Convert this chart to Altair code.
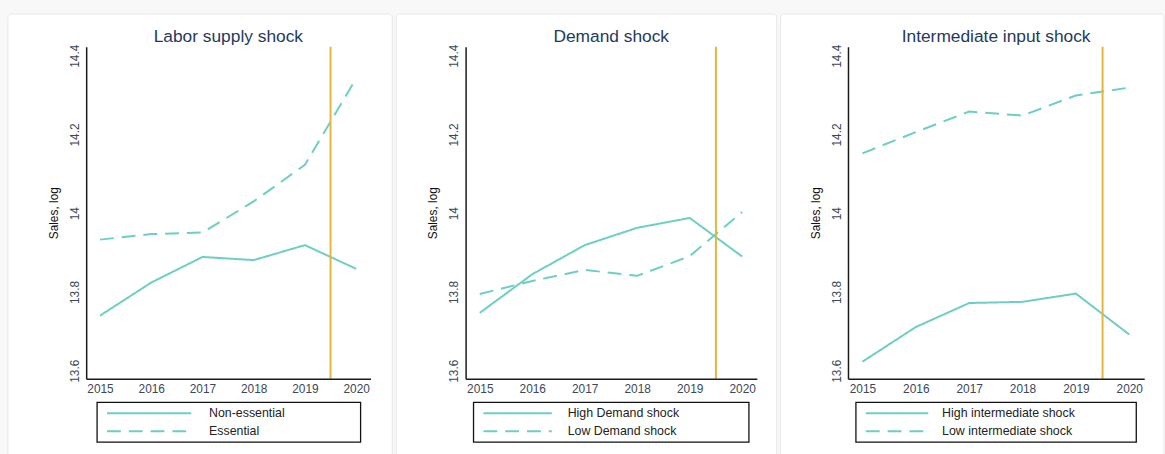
import altair as alt
import pandas as pd

# ---- data -------------------------------------------------------------
years = [2015, 2016, 2017, 2018, 2019, 2020]

panel_titles = ["Labor supply shock", "Demand shock", "Intermediate input shock"]
solid_names = ["Non-essential", "High Demand shock", "High intermediate shock"]
dashed_names = ["Essential", "Low Demand shock", "Low intermediate shock"]

labor_nonessential = [13.740, 13.824, 13.889, 13.881, 13.919, 13.859]
labor_essential = [13.933, 13.947, 13.951, 14.030, 14.123, 14.342]
demand_high = [13.747, 13.845, 13.919, 13.963, 13.988, 13.890]
demand_low = [13.795, 13.828, 13.856, 13.841, 13.891, 14.003]
input_high = [13.623, 13.711, 13.772, 13.775, 13.796, 13.692]
input_low = [14.152, 14.206, 14.258, 14.248, 14.299, 14.319]

solid_series = [labor_nonessential, demand_high, input_high]
dashed_series = [labor_essential, demand_low, input_low]

shock_year = 2019.5
y_ticks = [13.6, 13.8, 14.0, 14.2, 14.4]

# ---- styling / layout ------------------------------------------------
FONT = "Liberation Sans"
TEAL = "#6dcfc3"
GOLD = "#e5b63d"
LABEL_COLOR = "#3a4757"
TITLE_COLOR = "#1f3a5c"
DASH = [14, 8]

x_domain = [2014.73, 2020.28]
y_domain = [13.58, 14.4226]
plot_height = 335

# per-panel geometry (pixels relative to each plot area's top-left corner)
panel_widths = [287, 294, 299]
frame_x = [(-79, 309), (-70, 314), (-68, 319)]
legend_box_x = [(11, 277), (8, 286), (8, 291)]
legend_line_x = [(21, 106), (18, 87), (18, 81)]
legend_text_x = [124, 103, 95]
legend_box_y = (359, 399)
legend_rows_y = [370, 388]


def one_panel(i):
    w = panel_widths[i]
    df = pd.DataFrame({
        "year": years * 2,
        "sales": solid_series[i] + dashed_series[i],
        "series": [solid_names[i]] * len(years) + [dashed_names[i]] * len(years),
    })
    anchor = pd.DataFrame({"k": [0]})

    x_enc = alt.X(
        "year:Q",
        scale=alt.Scale(domain=x_domain, nice=False, zero=False),
        axis=alt.Axis(
            values=years, format="d", title=None, grid=False, ticks=False,
            domainColor="#1a1a1a", domainWidth=1.5, zindex=2,
            labelFont=FONT, labelFontSize=12, labelColor=LABEL_COLOR,
            labelPadding=5, labelFlush=False,
        ),
    )
    y_enc = alt.Y(
        "sales:Q",
        scale=alt.Scale(domain=y_domain, nice=False, zero=False),
        axis=alt.Axis(
            values=y_ticks, format=".1~f", title="Sales, log", grid=False,
            ticks=False, domainColor="#1a1a1a", domainWidth=1.5, zindex=2,
            labelFont=FONT, labelFontSize=12, labelColor=LABEL_COLOR,
            labelAngle=270, labelAlign="center", labelBaseline="bottom",
            labelPadding=5, labelFlush=False,
            titleFont=FONT, titleFontSize=12, titleFontWeight="normal",
            titleColor="#111111", titlePadding=8,
        ),
    )

    frame = alt.Chart(anchor).mark_rect(
        fill="white", stroke="#e8e8e8", strokeWidth=1, cornerRadius=3
    ).encode(
        x=alt.value(frame_x[i][0]), x2=alt.value(frame_x[i][1]),
        y=alt.value(-33), y2=alt.value(425),
    )

    title = alt.Chart(anchor).mark_text(
        text=panel_titles[i], font=FONT, fontSize=17.5, color=TITLE_COLOR,
        align="center", baseline="alphabetic",
    ).encode(x=alt.value(w / 2), y=alt.value(-4.5))

    lines = alt.Chart(df).mark_line(strokeWidth=2, color=TEAL).encode(
        x=x_enc,
        y=y_enc,
        strokeDash=alt.StrokeDash(
            "series:N",
            scale=alt.Scale(domain=[solid_names[i], dashed_names[i]],
                            range=[[1, 0], DASH]),
            legend=None,
        ),
    )

    shock = alt.Chart(pd.DataFrame({"year": [shock_year]})).mark_rule(
        color=GOLD, strokeWidth=2
    ).encode(x="year:Q")

    box = alt.Chart(anchor).mark_rect(
        filled=False, stroke="#111111", strokeWidth=1.3
    ).encode(
        x=alt.value(legend_box_x[i][0]), x2=alt.value(legend_box_x[i][1]),
        y=alt.value(legend_box_y[0]), y2=alt.value(legend_box_y[1]),
    )

    legend_layers = [box]
    for name, dash, ry in zip([solid_names[i], dashed_names[i]],
                              [[1, 0], DASH], legend_rows_y):
        legend_layers.append(
            alt.Chart(anchor).mark_rule(
                color=TEAL, strokeWidth=2, strokeDash=dash
            ).encode(
                x=alt.value(legend_line_x[i][0]),
                x2=alt.value(legend_line_x[i][1]),
                y=alt.value(ry),
            )
        )
        legend_layers.append(
            alt.Chart(anchor).mark_text(
                text=name, font=FONT, fontSize=12.5, color="#222222",
                align="left", baseline="middle",
            ).encode(x=alt.value(legend_text_x[i]), y=alt.value(ry))
        )

    return alt.layer(frame, title, lines, shock, *legend_layers).properties(
        width=w, height=plot_height
    )


chart = alt.hconcat(*[one_panel(i) for i in range(3)], spacing=2).properties(
    background="#f8f8f8",
    padding={"left": 7, "top": 11, "right": 0, "bottom": 0},
).configure_view(stroke=None)

chart.save("out.html", embed_options={"renderer": "svg", "actions": False})
